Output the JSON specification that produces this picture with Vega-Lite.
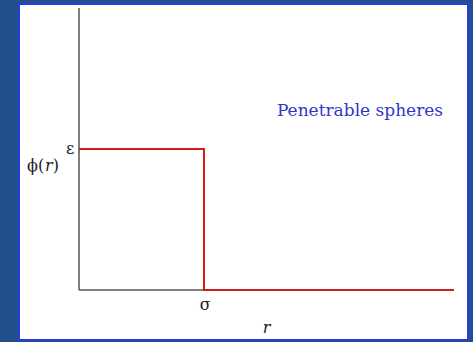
{
  "$schema": "https://vega.github.io/schema/vega-lite/v6.json",
  "width": 449,
  "height": 336,
  "autosize": "none",
  "padding": {"left": 19, "top": 4, "right": 5, "bottom": 2},
  "background": "#22508c",
  "config": {
    "view": {"fill": "white", "stroke": "#2a3ae0", "strokeWidth": 2},
    "axis": {"disable": true},
    "text": {"font": "DejaVu Serif"}
  },
  "datasets": {
    "potential": [
      {"r": 0, "phi": 1, "step": 0},
      {"r": 1, "phi": 1, "step": 1},
      {"r": 1, "phi": 0, "step": 2},
      {"r": 3, "phi": 0, "step": 3}
    ],
    "axes": [
      {"r": 0, "phi": 0, "r2": 0, "phi2": 2},
      {"r": 0, "phi": 0, "r2": 1, "phi2": 0}
    ],
    "symbols": [
      {"label": "ε", "r": -0.07, "phi": 1.0},
      {"label": "σ", "r": 1.01, "phi": -0.11}
    ],
    "phiLabel": [
      {"label": "ϕ(", "r": -0.416, "phi": 0.88},
      {"label": ")", "r": -0.21, "phi": 0.88}
    ],
    "italicLabels": [
      {"label": "r", "r": -0.272, "phi": 0.88, "size": 16},
      {"label": "r", "r": 1.47, "phi": -0.27, "size": 16}
    ],
    "title": [
      {"label": "Penetrable spheres", "r": 2.248, "phi": 1.27}
    ]
  },
  "layer": [
    {
      "data": {"name": "axes"},
      "mark": {"type": "rule", "color": "#555555", "strokeWidth": 1.5},
      "encoding": {
        "x": {"field": "r", "type": "quantitative", "scale": {"domain": [-0.48, 3.112], "nice": false, "zero": false}},
        "y": {"field": "phi", "type": "quantitative", "scale": {"domain": [-0.355, 2.028], "nice": false, "zero": false}},
        "x2": {"field": "r2"},
        "y2": {"field": "phi2"}
      }
    },
    {
      "data": {"name": "potential"},
      "mark": {"type": "line", "color": "#d01c1c", "strokeWidth": 2, "interpolate": "linear"},
      "encoding": {
        "x": {"field": "r", "type": "quantitative"},
        "y": {"field": "phi", "type": "quantitative"},
        "order": {"field": "step", "type": "quantitative"}
      }
    },
    {
      "data": {"name": "symbols"},
      "mark": {"type": "text", "fontSize": 16, "color": "#222222", "align": "center", "baseline": "middle"},
      "encoding": {
        "x": {"field": "r", "type": "quantitative"},
        "y": {"field": "phi", "type": "quantitative"},
        "text": {"field": "label"}
      }
    },
    {
      "data": {"name": "phiLabel"},
      "mark": {"type": "text", "fontSize": 16, "color": "#222222", "align": "left", "baseline": "middle"},
      "encoding": {
        "x": {"field": "r", "type": "quantitative"},
        "y": {"field": "phi", "type": "quantitative"},
        "text": {"field": "label"}
      }
    },
    {
      "data": {"name": "italicLabels"},
      "mark": {"type": "text", "fontStyle": "italic", "color": "#222222", "align": "left", "baseline": "middle"},
      "encoding": {
        "x": {"field": "r", "type": "quantitative"},
        "y": {"field": "phi", "type": "quantitative"},
        "text": {"field": "label"},
        "size": {"field": "size", "type": "quantitative", "scale": null}
      }
    },
    {
      "data": {"name": "title"},
      "mark": {"type": "text", "fontSize": 17, "color": "#3535c8", "align": "center", "baseline": "middle"},
      "encoding": {
        "x": {"field": "r", "type": "quantitative"},
        "y": {"field": "phi", "type": "quantitative"},
        "text": {"field": "label"}
      }
    }
  ]
}
